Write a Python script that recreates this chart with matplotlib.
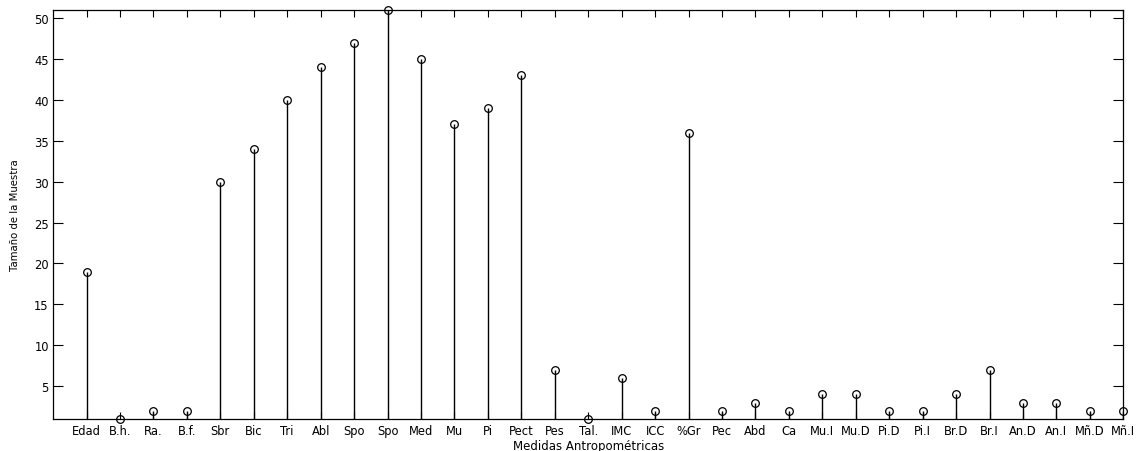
import numpy as np
import matplotlib.pyplot as plt

plt.rcParams['font.family'] = ['DejaVu Sans']

labels = ["Edad", "B.h.", "Ra.", "B.f.", "Sbr", "Bic", "Tri", "Abl", "Spo", "Spo",
          "Med", "Mu", "Pi", "Pect", "Pes", "Tal.", "IMC", "ICC", "%Gr", "Pec",
          "Abd", "Ca", "Mu.I", "Mu.D", "Pi.D", "Pi.I", "Br.D", "Br.I", "An.D", "An.I",
          "Mñ.D", "Mñ.I"]
sizes = [19, 1, 2, 2, 30, 34, 40, 44, 47, 51,
         45, 37, 39, 43, 7, 1, 6, 2, 36, 2,
         3, 2, 4, 4, 2, 2, 4, 7, 3, 3,
         2, 2]

x = np.arange(1, len(labels) + 1)

fig = plt.figure(figsize=(11.41, 4.52), dpi=100)
ax = fig.add_axes([0.0465, 0.071, 0.938, 0.905])

markers, stems, base = ax.stem(x, sizes, linefmt='k-', markerfmt='ko', basefmt='k-', bottom=0)
markers.set_markerfacecolor('none')
markers.set_markersize(5.5)
markers.set_markeredgewidth(0.9)
markers.set_clip_on(False)
stems.set_linewidth(1.0)
base.set_visible(False)

ax.set_xlim(0, 32)
ax.set_ylim(1, 51)
ax.set_xticks(x)
ax.set_xticklabels(labels, fontsize=8.3)
ax.set_yticks(np.arange(5, 51, 5))
ax.tick_params(axis='y', labelsize=8.3, direction='in', length=7, width=0.8,
               right=True, pad=3)
ax.tick_params(axis='x', direction='in', length=5, width=0.8, top=True, pad=4)
for s in ax.spines.values():
    s.set_linewidth(0.9)

ax.set_xlabel("Medidas Antropométricas", fontsize=8.5, labelpad=1)
ax.set_ylabel("Tamaño de la Muestra", fontsize=7.3, labelpad=10)

fig.savefig("out.png", dpi=100)
